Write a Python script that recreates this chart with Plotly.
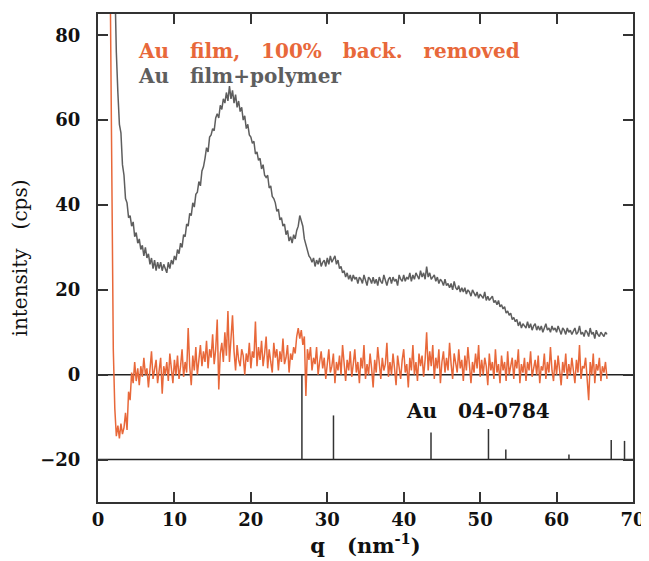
import plotly.graph_objects as go

# ---------------- data ----------------
# grey trace: Au film + polymer (q from 2.0, step 0.2)
gray_q_start = 2.0
gray_q_step = 0.2
gray_I = [
    110, 90, 76, 66.5, 59, 57, 49.5, 47, 41.5, 40.5,
    37, 37.5, 35, 36, 32.5, 33.5, 31, 32, 29.5, 30.5,
    28, 30, 27.5, 28.5, 26, 27.5, 25, 27, 24.5, 26.5,
    25, 26.5, 24.5, 26, 25, 24, 26.5, 25, 27, 26,
    28, 27, 29.5, 28.5, 31, 30, 33, 32.5, 35.5, 35,
    38, 37.5, 40.5, 39.5, 42.5, 43, 45.5, 44.5, 48, 49,
    51, 53.5, 52.5, 56, 56.5, 58, 57.5, 60.5, 61.5, 60.5,
    63.5, 62.5, 65, 64, 66.5, 64.5, 68, 65, 67, 64,
    66, 63, 64.5, 62, 63, 60, 61, 58, 59, 56.5,
    56, 54.5, 55, 52, 52.5, 50.5, 51, 48.5, 49.5, 47,
    46.5, 47, 44, 44.5, 42, 41.5, 40.5, 38.5, 39, 36.5,
    37, 35, 35.5, 33, 34, 31.5, 32.5, 31, 33, 32,
    34, 35, 37.5, 36, 35, 32, 30.5, 29, 28, 27.5,
    26.5, 27.5, 25.5, 27, 26, 27.5, 25.5, 26.5, 27, 25.5,
    27.5, 26, 28, 26.5, 27.5, 28, 26, 27, 25, 25.5,
    24, 24.5, 23, 24, 22.5, 23.5, 22, 23.5, 22.5, 23,
    21.5, 23, 22.5, 21.5, 23.5, 22, 21, 23, 22.5, 21.5,
    23, 21.5, 22.5, 21, 23, 22, 21.5, 23.5, 22, 21,
    22.5, 23, 21.5, 23, 22, 22.5, 21, 23.5, 22.5, 22,
    23.5, 22, 23, 22.5, 24, 22, 23.5, 22.5, 24, 23,
    22.5, 24.5, 23, 24, 22.5, 25.5, 23, 24, 22.5, 23,
    23.5, 22, 23, 21.5, 22.5, 22, 21, 22.5, 21, 21.5,
    20.5, 21.5, 20, 22, 20.5, 20, 21, 19.5, 20.5, 19.5,
    20.5, 19, 20, 19.5, 18.5, 20, 19, 18.5, 19.5, 18,
    19, 18.5, 18, 19.5, 17.5, 18.5, 17.5, 18, 18.5, 17,
    17.5, 16.5, 17.5, 16, 16.5, 15.5, 16, 14.5, 15, 14,
    14.5, 13, 13.5, 12.5, 13, 11.5, 12.5, 11, 12, 11.5,
    11, 12.5, 11, 12, 10.5, 11.5, 12, 10.5, 11.5, 10.5,
    11.5, 10, 11, 12, 10.5, 11, 10, 11.5, 10.5, 11,
    10, 11.5, 10.5, 9.5, 11, 10.5, 9.5, 11, 10, 10.5,
    9.5, 10.5, 11, 9.5, 10, 11.5, 9.5, 10, 9, 10.5,
    10, 9, 11, 9.5, 10, 8.5, 10.5, 9.5, 9, 10,
    9.5, 9, 10, 9.5,
]

# orange trace: Au film, 100% background removed (q from 1.6, step 0.2)
orange_q_start = 1.6
orange_q_step = 0.2
orange_I = [
    92, 50, 6, -8, -14.5, -12, -15, -11.5, -14, -12.5,
    -9, -13, -4, -6, 0.5, -2, 3, -1.5, 1.5, -2.5,
    2, -0.5, 4, 0, 1.5, -3, 2.5, 5.5, -1, 1,
    3.5, -2, 0.5, 4, -4.5, 2, 0, 3, -1.5, 5,
    1.5, -2, 3.5, 0, 4.5, -1, 2, 6, -0.5, 3,
    0.5, 11, 2, -2.5, 4.5, 1, 6.5, 0, 3.5, 7,
    2, 5.5, 3, 8, 1.5, 6, 4, 9.5, 2.5, 6,
    13, -3.5, 5, 7.5, 3, 10, 4.5, 15, 3, 8,
    14, 5.5, 1, 7, 3.5, 2, 6, 4.5, 0, 5,
    3, 7.5, 1.5, 5.5, 4, 12.5, 2, 6.5, 3.5, 8,
    2, 5, 9, 1.5, 6, 3, 0.5, 7.5, 4, 6,
    1, 5.5, 3, 8.5, 2.5, 4, 7, 0.5, 5, 3.5,
    6.5, 5, 9, 11, 8.5, 10.5, 7, 9, -5, 6,
    3.5, 6.5, 1, 4, 2.5, 6.5, 0, 3, 5.5, 1.5,
    4, -1, 3.5, 6, 0.5, 2, 5, -2, 3, 1,
    4.5, 0, 7, 2, -1.5, 3.5, 1, 5.5, -0.5, 2.5,
    6, 0.5, 3, -2, 4, 1.5, 7, -1, 2.5, 0,
    5, 1.5, -3, 3.5, 0.5, 6.5, 2, -1, 4, 1,
    2.5, 7.5, -0.5, 3, 0, 5, 1.5, -2.5, 4.5, 2,
    -1, 3.5, 6, 0.5, 2.5, -3, 4, 1, 7, 0,
    3, -1.5, 5, 2, 4.5, -0.5, 3.5, 10, 1, 5.5,
    2, 7, -1, 4, 1.5, 6, -2, 3, 5.5, 0.5,
    4, 1, 7.5, 2.5, -1, 5, 3, 0.5, 6, 1.5,
    3.5, -1.5, 4.5, 1, 6.5, 2, -2, 3, 0.5, 5,
    1.5, 7, -0.5, 3.5, 0, 4, 2, -2.5, 5, 1,
    3, -1, 6, 0.5, 2.5, -2, 4.5, 1, 3, -1.5,
    5.5, 0, 2, 4, -1, 3.5, 1.5, 6, -2, 2.5,
    0.5, 4, -1.5, 3, 1, 5.5, -0.5, 2, 3.5, 0,
    4.5, -2, 2, 1, 5, -1, 3, 0.5, 6.5, 1,
    -1.5, 3.5, 0, 4.5, 1.5, -2.5, 3, 0.5, 5, -1,
    2.5, 0, 4, 1, -2, 3.5, 0.5, 7, -1, 2,
    1.5, 4, -1, -6, 3, 0, 5, -2, 2.5, 1,
    4, -1.5, 2, 0.5, 3, -1,
]

# Au reference pattern (PDF 04-0784): peak positions in q (nm^-1) and relative intensity (%)
ref_q = [26.68, 30.81, 43.57, 51.09, 53.36, 61.62, 67.15, 68.89]
ref_rel = [100, 52, 32, 36, 12, 6, 23, 22]
ref_base = -20
ref_scale = 20  # 100% -> 20 cps

x_ticks = [0, 10, 20, 30, 40, 50, 60, 70]
y_ticks = [-20, 0, 20, 40, 60, 80]
y_ticktext = ["\u221220", "0", "20", "40", "60", "80"]

SP = "\u00a0 \u00a0"
label_orange = SP.join(["Au", "film,", "100%", "back.", "removed"])
label_gray = SP.join(["Au", "film+polymer"])
label_ref = SP.join(["Au", "04-0784"])
x_title = "q" + SP + "(nm<sup>-1</sup>)"
y_title = "intensity" + SP + "(cps)"

# ---------------- build ----------------
gray_q = [round(gray_q_start + i * gray_q_step, 3) for i in range(len(gray_I))]
orange_q = [round(orange_q_start + i * orange_q_step, 3) for i in range(len(orange_I))]

stick_x, stick_y = [], []
for q, r in zip(ref_q, ref_rel):
    stick_x += [q, q, None]
    stick_y += [ref_base, ref_base + ref_scale * r / 100.0, None]

ORANGE = "#E8683A"
GRAY = "#5E5E5E"
AX = "#333333"
FONT = "DejaVu Serif"

fig = go.Figure()
fig.add_trace(go.Scatter(x=stick_x, y=stick_y, mode="lines",
                         line=dict(color=AX, width=1.5), hoverinfo="skip"))
fig.add_trace(go.Scatter(x=gray_q, y=gray_I, mode="lines",
                         line=dict(color=GRAY, width=1.5), name="Au film+polymer"))
fig.add_trace(go.Scatter(x=orange_q, y=orange_I, mode="lines",
                         line=dict(color=ORANGE, width=1.5), name="Au film, 100% back. removed"))

for yv in [0, -20]:
    fig.add_shape(type="line", xref="paper", x0=0, x1=1, yref="y", y0=yv, y1=yv,
                  line=dict(color="#222222", width=1.5), layer="below")

fig.add_annotation(x=5.0, y=76.3, xref="x", yref="y", text=label_orange,
                   showarrow=False, xanchor="left", yanchor="middle",
                   font=dict(family=FONT, size=20, color=ORANGE, weight="bold"))
fig.add_annotation(x=5.0, y=70.3, xref="x", yref="y", text=label_gray,
                   showarrow=False, xanchor="left", yanchor="middle",
                   font=dict(family=FONT, size=20, color=GRAY, weight="bold"))
fig.add_annotation(x=40.1, y=-8.6, xref="x", yref="y", text=label_ref,
                   showarrow=False, xanchor="left", yanchor="middle",
                   font=dict(family=FONT, size=20, color="#111111", weight="bold"))

axis_common = dict(showline=True, linecolor=AX, linewidth=2, mirror="ticks",
                   ticks="inside", ticklen=10, tickwidth=1.5, tickcolor=AX,
                   showgrid=False, zeroline=False, automargin=False,
                   tickfont=dict(family=FONT, size=18, color="#111111", weight="bold"))

# the page body adds an 8 px offset, so the figure is sized to fit the window
fig.update_layout(
    width=641, height=553,
    margin=dict(l=90, r=16, t=6, b=59),
    paper_bgcolor="white", plot_bgcolor="white",
    showlegend=False,
    xaxis=dict(range=[0, 70], tickvals=x_ticks, autorange=False,
               title=dict(text=x_title, standoff=10,
                          font=dict(family=FONT, size=21, color="#111111", weight="bold")),
               **axis_common),
    yaxis=dict(range=[-30, 85], tickvals=y_ticks, ticktext=y_ticktext, autorange=False,
               ticklabelstandoff=12,
               title=dict(text=y_title, standoff=10,
                          font=dict(family=FONT, size=20, color="#111111")),
               **axis_common),
)

fig.write_html("out.html")
